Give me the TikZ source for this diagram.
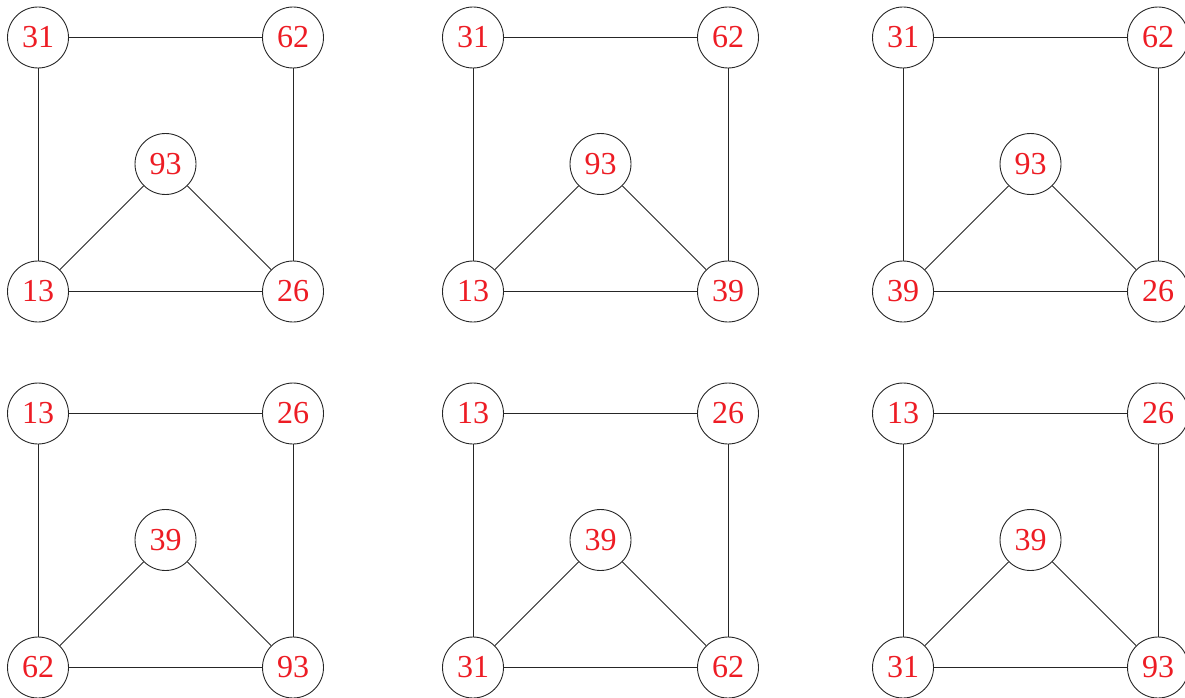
\documentclass[tikz,border=0pt]{standalone}
\usepackage{fontspec}
\setmainfont{Liberation Serif}
\definecolor{numred}{RGB}{237,28,36}
\begin{document}
\begin{tikzpicture}[x=1pt,y=-1pt,
  vtx/.style={circle,draw=black!85,line width=0.9pt,minimum size=61pt,inner sep=0pt,
    text=numred,font=\fontsize{32}{32}\selectfont},
  edge/.style={draw=black!85,line width=0.9pt}]
\useasboundingbox (0,0) rectangle (1185,698);
\newcommand{\gph}[8]{%
  \begin{scope}[shift={(#1,#2)}]
    \node[vtx] (#3tl) at (38,37.5) {#4};
    \node[vtx] (#3tr) at (293,37.5) {#5};
    \node[vtx] (#3ap) at (165.5,164) {#6};
    \node[vtx] (#3bl) at (38,291.5) {#7};
    \node[vtx] (#3br) at (293,291.5) {#8};
    \draw[edge] (#3tl) -- (#3tr);
    \draw[edge] (#3tl) -- (#3bl);
    \draw[edge] (#3tr) -- (#3br);
    \draw[edge] (#3bl) -- (#3br);
    \draw[edge] (#3ap) -- (#3bl);
    \draw[edge] (#3ap) -- (#3br);
  \end{scope}}
\gph{0}{0}{a}{31}{62}{93}{13}{26}
\gph{435}{0}{b}{31}{62}{93}{13}{39}
\gph{865}{0}{c}{31}{62}{93}{39}{26}
\gph{0}{376}{d}{13}{26}{39}{62}{93}
\gph{435}{376}{e}{13}{26}{39}{31}{62}
\gph{865}{376}{f}{13}{26}{39}{31}{93}
\end{tikzpicture}
\end{document}
